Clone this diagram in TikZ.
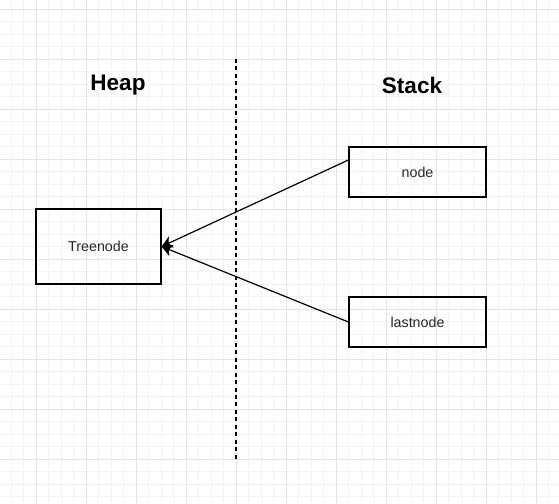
\documentclass[tikz,border=0pt]{standalone}
\usepackage{fontspec}
\setmainfont{Liberation Sans}
\usepackage{tikz}
\usetikzlibrary{
  arrows.meta,
  positioning,
  calc
}
\definecolor{GridMinor}{HTML}{F3F3F3}
\definecolor{GridMajor}{HTML}{E3E3E3}
\tikzset{
  gridminor/.style = {line width=0.75pt, GridMinor},
  gridmajor/.style = {line width=0.75pt, GridMajor},
  memtitle/.style  = {font=\fontsize{16.9}{20}\selectfont\bfseries},
  membox/.style    = {draw, line width=0.9pt, inner sep=0pt, text=black!85,
                      font=\fontsize{10.7}{13}\selectfont},
  refarrow/.style  = {line width=0.9pt, -{Stealth[length=8pt, width=9pt, inset=2.2pt]}}
}

\begin{document}
\begin{tikzpicture}[x=0.75pt, y=-0.75pt]
  \useasboundingbox (0,0) rectangle (559,503);
  % Background grid
  \fill [white] (0,0) rectangle (559,503);
  \foreach \gx in {0,...,44}
    \draw [gridminor] ({11.3+12.5*\gx},0) -- ({11.3+12.5*\gx},503);
  \foreach \gy in {0,...,39}
    \draw [gridminor] (0,{9.3+12.5*\gy}) -- (559,{9.3+12.5*\gy});
  \foreach \gx in {0,...,10}
    \draw [gridmajor] ({36.3+50*\gx},0) -- ({36.3+50*\gx},503);
  \foreach \gy in {0,...,9}
    \draw [gridmajor] (0,{9.3+50*\gy}) -- (559,{9.3+50*\gy});

  % Titles and divider
  \node [memtitle] (heap)  at (118, 85) {Heap};
  \node [memtitle] (stack) at (412, 85) {Stack};
  \coordinate (divtop) at (236, 59);
  \coordinate (divbot) at (236, 460);
  \draw [line width=0.9pt, dash pattern=on 3pt off 2.6pt] (divtop) -- (divbot);

  % Objects
  \node [membox, minimum width=93.75pt, minimum height=56.25pt] (tree)    at (98.5, 246.5) {Treenode};
  \node [membox, minimum width=102.75pt, minimum height=37.5pt] (nodebox) at (417.5, 172)  {node};
  \node [membox, minimum width=102.75pt, minimum height=37.5pt] (lastbox) at (417.5, 322)  {lastnode};

  % References
  \draw [refarrow] ([yshift=9pt]nodebox.west) -- (tree.east);
  \draw [refarrow] (lastbox.west) -- (tree.east);
\end{tikzpicture}
\end{document}
